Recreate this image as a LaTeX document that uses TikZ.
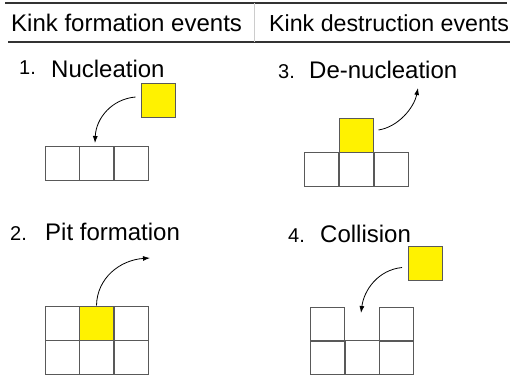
\documentclass[tikz,border=0pt]{standalone}
\usepackage{fontspec}
\setmainfont{Liberation Sans}
\usetikzlibrary{arrows.meta}

\begin{document}
\begin{tikzpicture}[x=1pt,y=-1pt,>={Latex[length=7pt,width=5pt]},
  cell/.style={draw=black!65,line width=1pt,minimum size=34pt,inner sep=0pt},
  kink/.style={cell,fill=yellow},
  title/.style={font=\fontsize{24}{28}\selectfont,anchor=base west,inner sep=0pt},
  num/.style={font=\fontsize{20}{24}\selectfont,anchor=base west,inner sep=0pt},
  hop/.style={->,line width=0.8pt}]
\useasboundingbox (0,0) rectangle (520,375);
% table head
\draw[black!80,line width=1.3pt] (5,3) -- (507,3);
\draw[black!80,line width=1.8pt] (8,42) -- (510,42);
\draw[black!20,line width=0.3pt] (254,3) -- (254,42);
\node[title] (hform) at (11,31) {Kink formation events};
\node[title,font=\fontsize{23.2}{27}\selectfont] (hdestr) at (269,31) {Kink destruction events};
% 1. nucleation
\node[num] (n1) at (19,74) {1.};
\node[title] (tnuc) at (51,77) {Nucleation};
\foreach \i/\x in {1/62,2/96.5,3/131}
  \node[cell] (nr\i) at (\x,163) {};
\node[kink] (ny) at (158,100) {};
\coordinate (ntip) at (95,143);
\draw[hop] ([shift={(-5,-3)}]ny.west) .. controls (112,99) and (96,118) .. (ntip);
% 3. de-nucleation
\node[num] (n3) at (278,78) {3.};
\node[title] (tden) at (309,78) {De-nucleation};
\foreach \i/\x in {1/321,2/356,3/391}
  \node[cell] (dr\i) at (\x,169) {};
\node[kink] (dy) at (356,135) {};
\coordinate (dtip) at (418,88);
\draw[hop] ([shift={(5,-5)}]dy.east) .. controls (398,127) and (414,108) .. (dtip);
% 2. pit formation
\node[num] (n2) at (10,240) {2.};
\node[title] (tpit) at (45,240) {Pit formation};
\foreach \i/\x in {1/62,2/96.5,3/131}{
  \node[cell] (pb\i) at (\x,357) {};
  \node[cell] (pt\i) at (\x,323) {};
}
\node[kink] (py) at (pt2) {};
\coordinate (ptip) at (150,258);
\draw[hop] (py.north) .. controls (97,278) and (120,260) .. (ptip);
% 4. collision
\node[num] (n4) at (288,242) {4.};
\node[title] (tcol) at (320,242) {Collision};
\foreach \i/\x in {1/327.5,2/362,3/396.5}
  \node[cell] (cb\i) at (\x,357.5) {};
\node[cell] (ct1) at (327.5,324) {};
\node[cell] (ct3) at (396.5,324) {};
\node[kink] (cy) at (425.5,263.5) {};
\coordinate (ctip) at (361,313);
\draw[hop] ([shift={(-6,4)}]cy.west) .. controls (378,270) and (364,290) .. (ctip);
\end{tikzpicture}
\end{document}
